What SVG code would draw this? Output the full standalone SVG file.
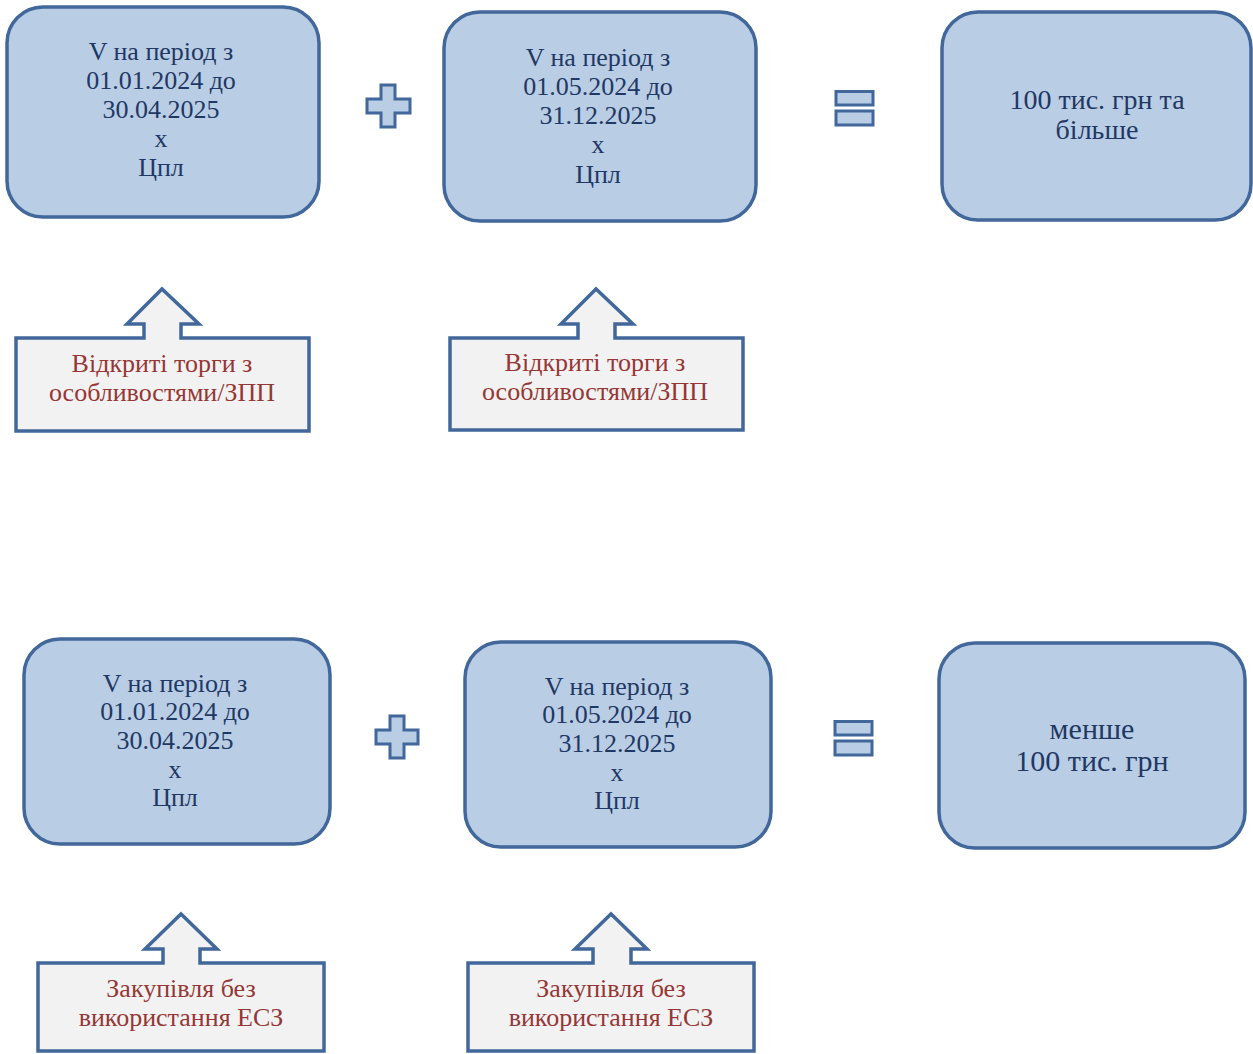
<svg xmlns="http://www.w3.org/2000/svg" width="1253" height="1054" viewBox="0 0 1253 1054">
<style>
.box{fill:#b9cde5;stroke:#41679b;stroke-width:3.5}
.sym{fill:#b9cde5;stroke:#41679b;stroke-width:3}
.call{fill:#f2f2f2;stroke:#41679b;stroke-width:3.5;stroke-linejoin:miter}
.t{font-family:"Liberation Serif","Times New Roman",serif;font-size:26px;fill:#1f3864;text-anchor:middle}
.r{font-family:"Liberation Serif","Times New Roman",serif;font-size:26px;fill:#953735;text-anchor:middle}
</style>
<rect width="1253" height="1054" fill="#ffffff"/>
<g id="box1"><rect class="box" x="7" y="7" width="312" height="210" rx="36"/>
<text class="t"><tspan x="161" y="60">V на період з</tspan><tspan x="161" y="89">01.01.2024 до</tspan><tspan x="161" y="118">30.04.2025</tspan><tspan x="161" y="147">х</tspan><tspan x="161" y="176">Цпл</tspan></text></g>
<g id="box2"><rect class="box" x="444" y="12" width="312" height="209" rx="36"/>
<text class="t"><tspan x="598" y="66">V на період з</tspan><tspan x="598" y="95">01.05.2024 до</tspan><tspan x="598" y="124">31.12.2025</tspan><tspan x="598" y="153">х</tspan><tspan x="598" y="183">Цпл</tspan></text></g>
<g id="box3"><rect class="box" x="942" y="12" width="309" height="208" rx="36"/>
<text class="t" style="font-size:28px"><tspan x="1097" y="109">100 тис. грн та</tspan><tspan x="1097" y="139">більше</tspan></text></g>
<g id="plus1"><path class="sym" d="M381,85 H395 V99 H410 V113 H395 V127 H381 V113 H367 V99 H381 Z"/></g>
<g id="eq1"><rect class="sym" x="836" y="91.5" width="37" height="13.5"/><rect class="sym" x="836" y="111" width="37" height="14"/></g>
<g id="call1"><path class="call" d="M16,338 H144 V324 H127 L162,289 L199,324 H181 V338 H309 V431 H16 Z"/>
<text class="r"><tspan x="162" y="372">Відкриті торги з</tspan><tspan x="162" y="401">особливостями/ЗПП</tspan></text></g>
<g id="call2"><path class="call" d="M450,338 H578 V324 H561 L596,289 L633,324 H615 V338 H743 V430 H450 Z"/>
<text class="r"><tspan x="595" y="371">Відкриті торги з</tspan><tspan x="595" y="400">особливостями/ЗПП</tspan></text></g>
<g id="box4"><rect class="box" x="24" y="639" width="306" height="205" rx="36"/>
<text class="t"><tspan x="175" y="692">V на період з</tspan><tspan x="175" y="720">01.01.2024 до</tspan><tspan x="175" y="749">30.04.2025</tspan><tspan x="175" y="778">х</tspan><tspan x="175" y="806">Цпл</tspan></text></g>
<g id="box5"><rect class="box" x="465" y="642" width="306" height="205" rx="36"/>
<text class="t"><tspan x="617" y="695">V на період з</tspan><tspan x="617" y="723">01.05.2024 до</tspan><tspan x="617" y="752">31.12.2025</tspan><tspan x="617" y="781">х</tspan><tspan x="617" y="809">Цпл</tspan></text></g>
<g id="box6"><rect class="box" x="939" y="643" width="306" height="205" rx="36"/>
<text class="t" style="font-size:30px"><tspan x="1092" y="739">менше</tspan><tspan x="1092" y="771">100 тис. грн</tspan></text></g>
<g id="plus2"><path class="sym" d="M390,716 H404 V730 H418 V744 H404 V758 H390 V744 H376 V730 H390 Z"/></g>
<g id="eq2"><rect class="sym" x="835" y="721.5" width="37" height="13.5"/><rect class="sym" x="835" y="741" width="37" height="14"/></g>
<g id="call3"><path class="call" d="M38,963 H163 V949 H145 L181,914 L217,949 H200 V963 H324 V1051 H38 Z"/>
<text class="r"><tspan x="181" y="997">Закупівля без</tspan><tspan x="181" y="1026">використання ЕСЗ</tspan></text></g>
<g id="call4"><path class="call" d="M468,963 H593 V949 H575 L611,914 L647,949 H631 V963 H754 V1051 H468 Z"/>
<text class="r"><tspan x="611" y="997">Закупівля без</tspan><tspan x="611" y="1026">використання ЕСЗ</tspan></text></g>
<g id="connectors"></g>
</svg>
